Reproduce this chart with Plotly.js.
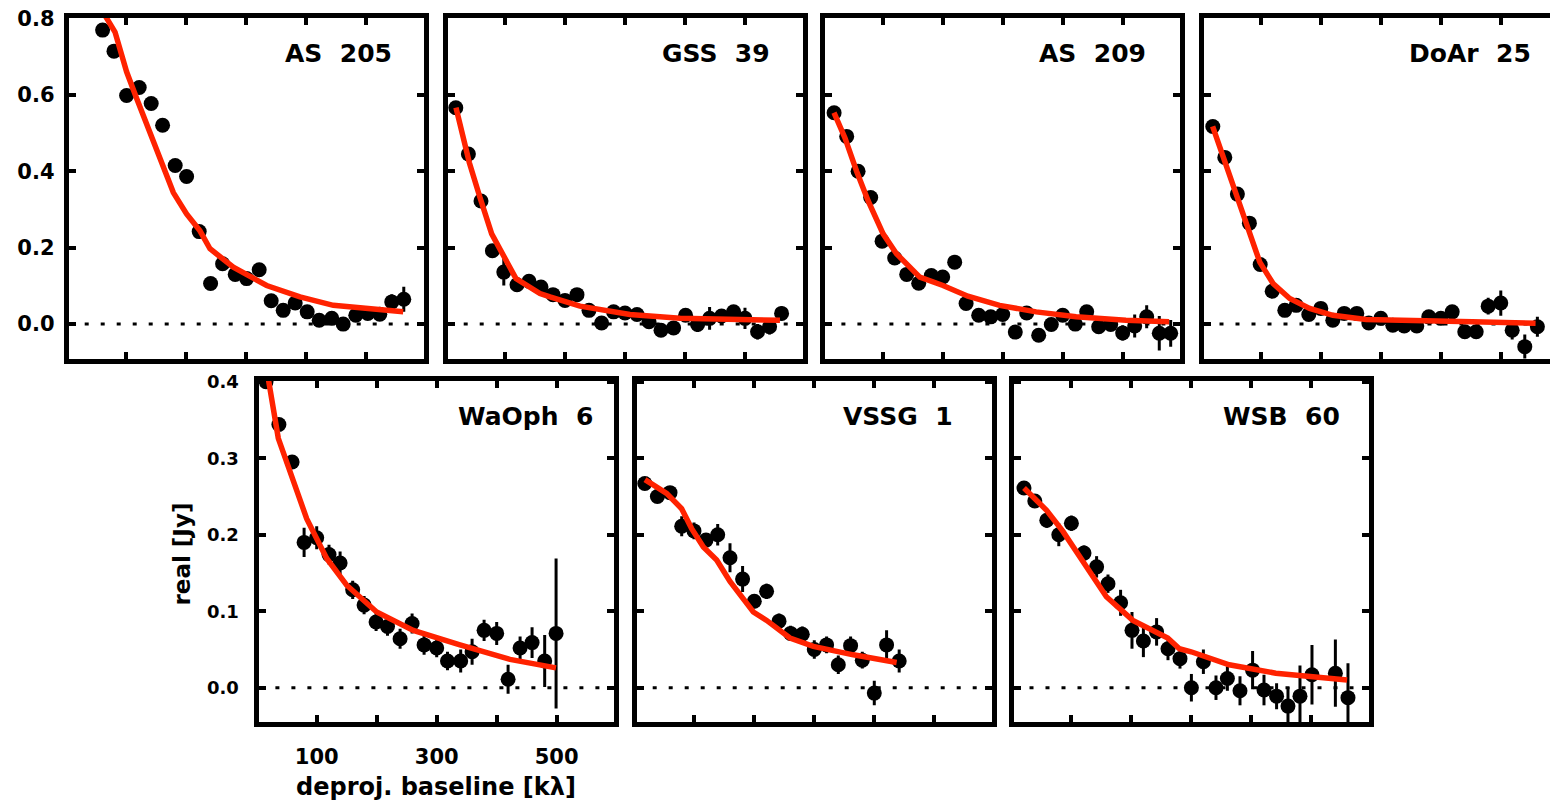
<!DOCTYPE html>
<html><head><meta charset="utf-8">
<script src="https://cdn.plot.ly/plotly-3.0.1.min.js"></script>
<style>
html,body{margin:0;padding:0;overflow:hidden;background:#fff;width:1550px;height:803px}
#chart{width:1580px;height:803px}
</style>
</head><body><div id="chart"></div>
<script>
// ---------------- data ----------------
const panelNames = ['AS  205', 'GSS  39', 'AS  209', 'DoAr  25', 'WaOph  6', 'VSSG  1', 'WSB  60'];

const xTickVals = [100, 200, 300, 400, 500];
const xTickText = ['100', '', '300', '', '500'];
const yTickValsTop = [0.0, 0.2, 0.4, 0.6, 0.8];
const yTickTextTop = ['0.0', '0.2', '0.4', '0.6', '0.8'];
const yTickValsBottom = [0.0, 0.1, 0.2, 0.3, 0.4];
const yTickTextBottom = ['0.0', '0.1', '0.2', '0.3', '0.4'];
const xTitle = 'deproj. baseline [kλ]';
const yTitle = 'real [Jy]';

// AS 205
const as205X = [61, 80, 101, 122, 142, 161, 182, 201, 222, 241, 261, 282, 301, 322, 342, 362, 382, 402, 422, 443, 462, 483, 503, 523, 543, 563];
const as205Y = [0.769, 0.714, 0.598, 0.619, 0.577, 0.520, 0.415, 0.386, 0.242, 0.106, 0.158, 0.130, 0.119, 0.142, 0.061, 0.036, 0.055, 0.032, 0.010, 0.015, 0.000, 0.023, 0.028, 0.026, 0.058, 0.065];
const as205Err = [0.006, 0.006, 0.006, 0.006, 0.006, 0.006, 0.006, 0.006, 0.006, 0.006, 0.006, 0.006, 0.008, 0.008, 0.008, 0.008, 0.008, 0.008, 0.008, 0.008, 0.008, 0.012, 0.015, 0.015, 0.020, 0.033];
const as205ModelX = [61, 66.7, 81.7, 101, 117.8, 134.4, 156.7, 178.9, 201, 223.3, 240, 278.9, 334.4, 390, 445.5, 501, 562];
const as205ModelY = [0.83, 0.803, 0.764, 0.660, 0.590, 0.521, 0.435, 0.344, 0.288, 0.244, 0.197, 0.149, 0.101, 0.071, 0.049, 0.041, 0.032];

// GSS 39
const gss39X = [18, 39, 60, 79, 98, 120, 140, 160, 180, 200, 220, 240, 261, 281, 300, 320, 340, 360, 381, 401, 421, 441, 461, 481, 500, 521, 541, 561];
const gss39Y = [0.566, 0.445, 0.322, 0.192, 0.136, 0.103, 0.112, 0.097, 0.077, 0.062, 0.077, 0.036, 0.003, 0.032, 0.029, 0.025, 0.006, -0.016, -0.010, 0.023, -0.001, 0.015, 0.021, 0.032, 0.015, -0.020, -0.007, 0.028];
const gss39Err = [0.006, 0.006, 0.006, 0.010, 0.035, 0.008, 0.008, 0.008, 0.008, 0.008, 0.008, 0.008, 0.008, 0.008, 0.008, 0.008, 0.008, 0.010, 0.012, 0.012, 0.020, 0.030, 0.015, 0.015, 0.028, 0.020, 0.020, 0.018];
const gss39ModelX = [18.3, 40.6, 58.3, 77.8, 118.3, 158.3, 175, 225, 308.3, 391.7, 558.3];
const gss39ModelY = [0.566, 0.422, 0.331, 0.236, 0.119, 0.080, 0.071, 0.047, 0.025, 0.015, 0.010];

// AS 209
const as209X = [19, 40, 59, 80, 99, 120, 140, 160, 181, 200, 220, 239, 260, 280, 300, 321, 340, 360, 381, 400, 421, 440, 460, 480, 500, 520, 540, 561, 580];
const as209Y = [0.553, 0.491, 0.400, 0.331, 0.217, 0.173, 0.130, 0.107, 0.127, 0.123, 0.162, 0.054, 0.023, 0.019, 0.025, -0.021, 0.029, -0.029, -0.001, 0.023, 0.000, 0.032, -0.007, -0.001, -0.023, -0.005, 0.019, -0.024, -0.024];
const as209Err = [0.006, 0.006, 0.006, 0.006, 0.006, 0.006, 0.006, 0.006, 0.006, 0.006, 0.015, 0.008, 0.008, 0.008, 0.008, 0.008, 0.008, 0.008, 0.008, 0.008, 0.008, 0.010, 0.010, 0.012, 0.020, 0.030, 0.030, 0.045, 0.035];
const as209ModelX = [18.8, 37.1, 56.5, 75.8, 100.7, 123, 161.8, 200.5, 242, 294.8, 355.8, 422.3, 505.4, 577.4];
const as209ModelY = [0.553, 0.487, 0.400, 0.322, 0.236, 0.184, 0.123, 0.101, 0.073, 0.049, 0.032, 0.019, 0.010, 0.006];

// DoAr 25
const doar25X = [20, 40, 61, 81, 99, 119, 140, 159, 180, 200, 220, 239, 260, 280, 300, 320, 339, 360, 380, 400, 419, 440, 459, 479, 500, 519, 540, 561];
const doar25Y = [0.517, 0.436, 0.340, 0.264, 0.156, 0.086, 0.036, 0.049, 0.025, 0.041, 0.010, 0.028, 0.028, 0.003, 0.015, -0.003, -0.005, -0.005, 0.019, 0.015, 0.032, -0.020, -0.020, 0.047, 0.055, -0.016, -0.059, -0.007];
const doar25Err = [0.006, 0.006, 0.006, 0.006, 0.006, 0.006, 0.006, 0.006, 0.006, 0.006, 0.006, 0.006, 0.006, 0.006, 0.006, 0.006, 0.006, 0.006, 0.008, 0.010, 0.010, 0.015, 0.015, 0.022, 0.033, 0.024, 0.032, 0.026];
const doar25ModelX = [19.7, 59.6, 78.9, 98.3, 120.4, 148.2, 181.4, 220.1, 275.6, 369.6, 452.7, 558];
const doar25ModelY = [0.517, 0.339, 0.253, 0.162, 0.106, 0.067, 0.041, 0.023, 0.012, 0.010, 0.006, 0.002];

// WaOph 6
const waoph6X = [15.5, 37, 59, 79, 100, 120.5, 139, 160, 179, 199, 218, 239, 259, 279, 300, 318, 340, 359, 379, 400, 419, 439, 459, 480, 499];
const waoph6Y = [0.400, 0.344, 0.295, 0.190, 0.196, 0.174, 0.163, 0.128, 0.108, 0.086, 0.080, 0.064, 0.084, 0.056, 0.052, 0.035, 0.035, 0.047, 0.075, 0.071, 0.011, 0.052, 0.059, 0.035, 0.071];
const waoph6Err = [0.008, 0.008, 0.008, 0.019, 0.015, 0.013, 0.015, 0.012, 0.012, 0.012, 0.012, 0.013, 0.013, 0.013, 0.012, 0.012, 0.015, 0.017, 0.014, 0.015, 0.019, 0.015, 0.020, 0.034, 0.098];
const waoph6ModelX = [15, 19.3, 36, 58.3, 83.3, 116.7, 150, 200, 261, 338.8, 422.2, 498.8];
const waoph6ModelY = [0.43, 0.404, 0.326, 0.278, 0.221, 0.169, 0.134, 0.099, 0.075, 0.056, 0.037, 0.026];

// VSSG 1
const vssg1X = [18, 39, 60, 79.5, 100, 120, 139.5, 160, 181, 200.5, 221, 241.7, 261, 280.5, 300.5, 321, 340.5, 361, 380.5, 400.5, 421, 442];
const vssg1Y = [0.267, 0.250, 0.255, 0.211, 0.205, 0.193, 0.200, 0.170, 0.142, 0.113, 0.126, 0.087, 0.071, 0.070, 0.050, 0.056, 0.030, 0.055, 0.036, -0.007, 0.056, 0.035];
const vssg1Err = [0.008, 0.008, 0.008, 0.013, 0.011, 0.008, 0.014, 0.019, 0.017, 0.009, 0.010, 0.010, 0.010, 0.010, 0.012, 0.011, 0.012, 0.012, 0.011, 0.016, 0.019, 0.015];
const vssg1ModelX = [18.3, 54.4, 79.4, 96.1, 115.6, 137.8, 160, 198.9, 221.1, 260, 298.9, 365.6, 437.8];
const vssg1ModelY = [0.272, 0.254, 0.234, 0.208, 0.184, 0.167, 0.139, 0.099, 0.088, 0.065, 0.054, 0.043, 0.033];

// WSB 60
const wsb60X = [22, 40, 60, 80, 101, 122, 143, 162, 183, 202, 221, 243, 262, 282, 301, 321, 342, 361, 382, 403, 422, 443, 462, 482, 502, 541, 562];
const wsb60Y = [0.261, 0.244, 0.219, 0.200, 0.215, 0.176, 0.158, 0.136, 0.111, 0.075, 0.061, 0.073, 0.051, 0.038, 0.000, 0.034, 0.000, 0.012, -0.004, 0.023, -0.003, -0.011, -0.024, -0.011, 0.017, 0.019, -0.013];
const wsb60Err = [0.008, 0.008, 0.010, 0.015, 0.010, 0.010, 0.014, 0.012, 0.017, 0.024, 0.021, 0.018, 0.015, 0.013, 0.018, 0.016, 0.016, 0.016, 0.019, 0.025, 0.020, 0.017, 0.025, 0.040, 0.039, 0.044, 0.045];
const wsb60ModelX = [22, 59.6, 87.2, 117.8, 159.3, 203.5, 261.6, 281, 300.5, 364, 441.7, 560.6];
const wsb60ModelY = [0.261, 0.232, 0.204, 0.167, 0.119, 0.088, 0.065, 0.051, 0.047, 0.030, 0.019, 0.010];

// ---------------- layout / drawing ----------------
const W = 1580, H = 803;
const FONT = 'DejaVu Sans, Liberation Sans, sans-serif';
const RED = '#ff2200';

const series = [
  [as205X, as205Y, as205Err, as205ModelX, as205ModelY],
  [gss39X, gss39Y, gss39Err, gss39ModelX, gss39ModelY],
  [as209X, as209Y, as209Err, as209ModelX, as209ModelY],
  [doar25X, doar25Y, doar25Err, doar25ModelX, doar25ModelY],
  [waoph6X, waoph6Y, waoph6Err, waoph6ModelX, waoph6ModelY],
  [vssg1X, vssg1Y, vssg1Err, vssg1ModelX, vssg1ModelY],
  [wsb60X, wsb60Y, wsb60Err, wsb60ModelX, wsb60ModelY]
];
// plot-area pixel boxes (left, row) and label right edges
const boxes = [
  {left: 68.7, row: 0, labelRight: 393.5},
  {left: 447.7, row: 0, labelRight: 771.7},
  {left: 825.4, row: 0, labelRight: 1148.3},
  {left: 1203.5, row: 0, labelRight: 1533},
  {left: 259.4, row: 1, labelRight: 595},
  {left: 636.7, row: 1, labelRight: 955},
  {left: 1013.5, row: 1, labelRight: 1341.7}
];
const PW = 355;
const rows = [
  {top: 17.5, bottom: 358.5, range: [-0.09, 0.802], tv: yTickValsTop, tt: yTickTextTop},
  {top: 380.5, bottom: 722, range: [-0.0448, 0.4016], tv: yTickValsBottom, tt: yTickTextBottom}
];
const XR = [4.5, 596.2];

const data = [];
const layout = {
  width: W, height: H,
  margin: {l: 0, r: 0, t: 0, b: 0},
  paper_bgcolor: '#fff', plot_bgcolor: '#fff',
  showlegend: false,
  font: {family: FONT, color: '#000'},
  annotations: [], shapes: []
};

series.forEach((s, i) => {
  const k = i + 1;
  const xa = 'x' + (k === 1 ? '' : k), ya = 'y' + (k === 1 ? '' : k);
  const b = boxes[i], r = rows[b.row];
  const axBase = {
    showline: true, linewidth: 5, linecolor: '#000', mirror: 'ticks',
    ticks: 'inside', ticklen: 7, tickwidth: 4, tickcolor: '#000',
    showgrid: false, zeroline: false, fixedrange: true
  };
  layout['xaxis' + (k === 1 ? '' : k)] = Object.assign({}, axBase, {
    domain: [b.left / W, (b.left + PW) / W],
    range: XR, anchor: ya,
    tickmode: 'array', tickvals: xTickVals, ticktext: xTickText,
    showticklabels: i === 4, ticklabelstandoff: 12,
    tickfont: {family: FONT, size: 21, weight: 'bold', color: '#000'}
  });
  layout['yaxis' + (k === 1 ? '' : k)] = Object.assign({}, axBase, {
    domain: [1 - r.bottom / H, 1 - r.top / H],
    range: r.range, anchor: xa,
    tickmode: 'array', tickvals: r.tv, ticktext: r.tt,
    showticklabels: i === 0 || i === 4,
    ticklabelstandoff: i === 4 ? 12 : 5,
    tickfont: {family: FONT, size: i === 4 ? 18 : 21, weight: 'bold', color: '#000'}
  });
  layout.shapes.push({
    type: 'line', xref: xa + ' domain', yref: ya, x0: 0, x1: 1, y0: 0, y1: 0,
    line: {color: '#000', width: 3, dash: '4px,12px'}, layer: 'below'
  });
  data.push({
    type: 'scatter', mode: 'markers', x: s[0], y: s[1], xaxis: xa, yaxis: ya,
    marker: {color: '#000', size: 15},
    error_y: {type: 'data', array: s[2], visible: true, color: '#000', thickness: 3, width: 0}
  });
  data.push({
    type: 'scatter', mode: 'lines', x: s[3], y: s[4], xaxis: xa, yaxis: ya,
    line: {color: RED, width: 5.5}
  });
  layout.annotations.push({
    xref: 'paper', yref: 'paper', x: b.labelRight / W, y: 1 - (r.top - 2.5 + 38.5) / H,
    xanchor: 'right', yanchor: 'middle', showarrow: false,
    text: panelNames[i].replace(/  /g, ' \u00a0'),
    font: {family: FONT, size: 25, weight: 'bold', color: '#000'}
  });
});

layout.annotations.push({
  xref: 'paper', yref: 'paper', x: 181.5 / W, y: 1 - 554 / H, textangle: -90,
  xanchor: 'center', yanchor: 'middle', showarrow: false, text: yTitle,
  font: {family: FONT, size: 23, weight: 'bold', color: '#000'}
});
layout.annotations.push({
  xref: 'paper', yref: 'paper', x: 436 / W, y: 1 - 786.5 / H,
  xanchor: 'center', yanchor: 'middle', showarrow: false, text: xTitle,
  font: {family: FONT, size: 24, weight: 'bold', color: '#000'}
});

Plotly.newPlot('chart', data, layout, {staticPlot: true, displayModeBar: false});
</script>
</body></html>
